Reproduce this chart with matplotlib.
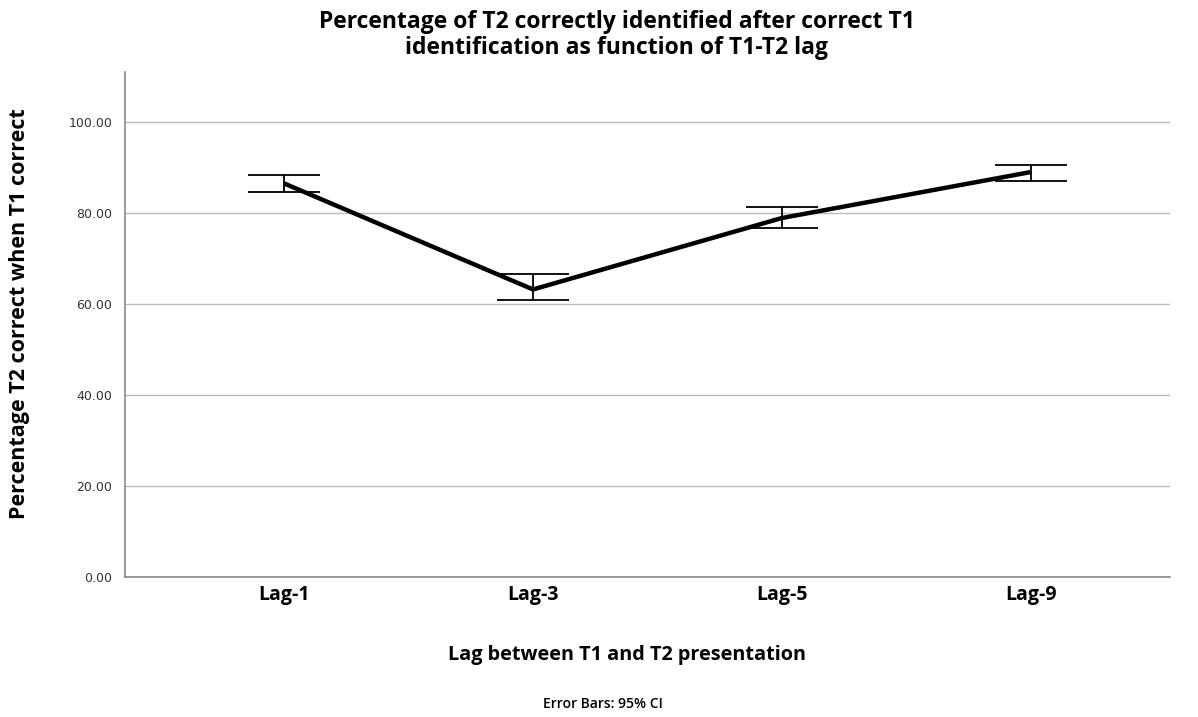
import numpy as np
import matplotlib.pyplot as plt

lags = ["Lag-1", "Lag-3", "Lag-5", "Lag-9"]
mean_pct = [86.5, 63.2, 78.9, 89.0]
ci_low = [84.6, 60.8, 76.7, 87.0]
ci_high = [88.4, 66.5, 81.3, 90.5]
y_ticks = [0, 20, 40, 60, 80, 100]

plt.rcParams['font.family'] = ['Open Sans', 'DejaVu Sans']

fig = plt.figure(figsize=(11.98, 7.17), dpi=100)
ax = fig.add_axes([0.1043, 0.1953, 0.8723, 0.7043])

x = np.arange(len(lags))
mean = np.array(mean_pct)
yerr = [mean - np.array(ci_low), np.array(ci_high) - mean]

ax.errorbar(x, mean, yerr=yerr, fmt='none', ecolor='black', elinewidth=1.3,
            capsize=26, capthick=1.3, zorder=3)
ax.plot(x, mean, color='black', linewidth=3.2, solid_capstyle='butt', zorder=4)

ax.set_xlim(-0.64, 3.56)
ax.set_ylim(0, 111)
ax.set_yticks(y_ticks)
ax.set_yticklabels([f"{v:.2f}" for v in y_ticks], family='DejaVu Sans',
                   fontsize=9, color='#333333')
ax.set_xticks(x)
ax.set_xticklabels(lags, fontsize=14, fontweight='bold')
ax.tick_params(axis='x', length=0, pad=6)
ax.tick_params(axis='y', length=0, pad=9)

ax.grid(axis='y', color='#bbbbbb', linewidth=1)
ax.set_axisbelow(True)
for s in ['top', 'right']:
    ax.spines[s].set_visible(False)
for s in ['left', 'bottom']:
    ax.spines[s].set_color('#888888')
    ax.spines[s].set_linewidth(1.2)

fig.text(0.515, 0.951, "Percentage of T2 correctly identified after correct T1\n"
         "identification as function of T1-T2 lag",
         ha='center', va='center', fontsize=16.5, fontweight='bold',
         linespacing=1.1)
fig.text(0.016, 0.563, "Percentage T2 correct when T1 correct", rotation=90,
         ha='center', va='center', fontsize=15.5, fontweight='bold')
fig.text(0.523, 0.086, "Lag between T1 and T2 presentation",
         ha='center', va='center', fontsize=14.3, fontweight='bold')
fig.text(0.503, 0.008, "Error Bars: 95% CI", ha='center', va='bottom',
         fontsize=10, fontweight='semibold')

fig.savefig("out.png", dpi=100)
